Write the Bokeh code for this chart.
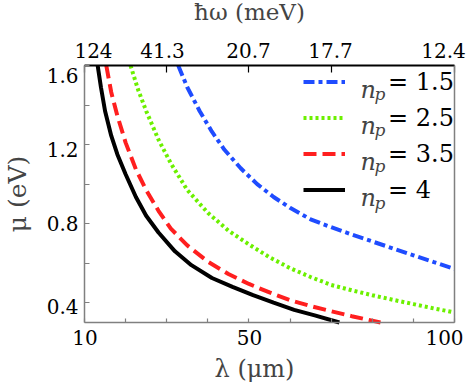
import numpy as np
from bokeh.plotting import figure
from bokeh.models import Range1d, LinearAxis, FixedTicker, Label, Legend, LegendItem
from bokeh.embed import file_html
from bokeh.resources import INLINE

# ---------------- data ----------------
lam_np15 = [32.8, 35.0, 38.0, 41.0, 44.0, 48.0, 52.0, 56.0, 60.0, 65.0, 70.0, 75.0, 80.0, 85.0, 90.0, 95.0, 100.0]
mu_np15 = [1.60, 1.49, 1.37, 1.265, 1.175, 1.08, 1.00, 0.935, 0.88, 0.822, 0.782, 0.745, 0.71, 0.675, 0.64, 0.605, 0.571]

lam_np25 = [21.2, 23.0, 25.0, 28.0, 31.0, 35.0, 40.0, 45.0, 50.0, 55.0, 60.0, 65.0, 70.0, 75.0, 80.0, 85.0, 90.0, 95.0, 100.0]
mu_np25 = [1.60, 1.48, 1.37, 1.225, 1.105, 0.97, 0.855, 0.765, 0.695, 0.63, 0.575, 0.53, 0.49, 0.463, 0.438, 0.415, 0.393, 0.371, 0.351]

lam_np35 = [15.3, 16.5, 18.0, 20.0, 22.5, 25.0, 28.0, 31.0, 35.0, 40.0, 45.0, 50.0, 55.0, 60.0, 65.0, 70.0, 75.0, 82.0]
mu_np35 = [1.60, 1.465, 1.345, 1.21, 1.075, 0.97, 0.865, 0.775, 0.69, 0.608, 0.545, 0.495, 0.452, 0.413, 0.383, 0.357, 0.332, 0.30]

lam_np4 = [13.2, 14.0, 15.0, 16.5, 18.0, 20.0, 22.5, 25.0, 28.0, 32.0, 36.0, 41.0, 46.0, 51.0, 56.0, 61.0, 66.0, 72.0]
mu_np4 = [1.60, 1.49, 1.37, 1.245, 1.15, 1.05, 0.935, 0.84, 0.755, 0.66, 0.59, 0.525, 0.48, 0.438, 0.40, 0.364, 0.336, 0.30]

np_values = ["1.5", "2.5", "3.5", "4"]

x_tick_marks = [10, 20, 30, 40, 50, 60, 70, 80, 90, 100]
x_tick_labels = ["10", "50", "100"]
top_tick_marks = [10, 30, 50, 70, 100]
top_tick_labels = ["124", "41.3", "20.7", "17.7", "12.4"]
y_tick_marks = [0.4, 0.6, 0.8, 1.0, 1.2, 1.4, 1.6]
y_tick_labels = ["0.4", "0.8", "1.2", "1.6"]

X0, X1 = 10, 100      # lambda limits of the box
Y0, Y1 = 0.3, 1.6     # mu limits of the box

# ---------------- layout (page pixels) ----------------
W, H = 467, 388
BOX_L, BOX_R, BOX_T, BOX_B = 84, 454, 65, 322   # where the plot box sits

bottom_label_px = [84.5, 249, 444]
top_label_px = [93, 162, 248, 330, 443]
left_label_py = [306, 223, 149, 75.5]


def px2x(px):
    return round(X0 + (px - BOX_L) / (BOX_R - BOX_L) * (X1 - X0), 4)


def py2y(py):
    return round(Y1 - (py - BOX_T) / (BOX_B - BOX_T) * (Y1 - Y0), 5)


FONT = "DejaVu Serif"
GRAY = "#808080"

# the frame covers the whole canvas; the axes are pinned to the box edges
p = figure(width=W, height=H,
           x_range=Range1d(px2x(0), px2x(W)), y_range=Range1d(py2y(H), py2y(0)),
           x_axis_type=None, y_axis_type=None, output_backend="svg",
           toolbar_location=None, min_border=0)
p.outline_line_color = None


def make_axis(loc, bounds, marks, label_pos, labels, tick_len, color, font_px, standoff):
    ax = LinearAxis(fixed_location=loc, bounds=bounds,
                    ticker=FixedTicker(ticks=label_pos, minor_ticks=marks),
                    major_label_overrides={pos: lab for pos, lab in zip(label_pos, labels)})
    ax.major_tick_in = 0
    ax.major_tick_out = 0
    ax.minor_tick_in = tick_len
    ax.minor_tick_out = 0
    ax.axis_line_color = color
    ax.axis_line_width = 1.5
    ax.minor_tick_line_color = color
    ax.minor_tick_line_width = 1.2
    ax.major_label_text_font = FONT
    ax.major_label_text_font_size = font_px
    ax.major_label_text_color = "black"
    ax.major_label_standoff = standoff
    return ax


bottom = make_axis(Y0, (X0, X1), x_tick_marks, [px2x(v) for v in bottom_label_px], x_tick_labels,
                   4, GRAY, "20px", 7)
p.add_layout(bottom, "below")

left = make_axis(X0, (Y0, Y1), y_tick_marks, [py2y(v) for v in left_label_py], y_tick_labels,
                 5, GRAY, "20px", 6)
p.add_layout(left, "left")

top = make_axis(Y1, (X0, X1), top_tick_marks, [px2x(v) for v in top_label_px], top_tick_labels,
                7, "black", "20px", 7)
top.axis_line_width = 2
p.add_layout(top, "above")

right = LinearAxis(fixed_location=X1, bounds=(Y0, Y1), ticker=FixedTicker(ticks=[]),
                   axis_line_color=GRAY, axis_line_width=1.5)
p.add_layout(right, "right")

# ---------------- axis titles ----------------
p.add_layout(Label(x=px2x(249), y=py2y(12), text="ħω (meV)", text_font=FONT,
                   text_font_size="23px", text_align="center", text_baseline="alphabetic"))
p.add_layout(Label(x=px2x(254), y=py2y(369), text="λ (μm)", text_font=FONT,
                   text_font_size="24px", text_align="center", text_baseline="alphabetic"))
p.add_layout(Label(x=px2x(17), y=py2y(193.5), text="μ (eV)", text_font=FONT,
                   text_font_size="25px", text_align="center", text_baseline="middle",
                   angle=np.pi / 2))

# ---------------- curves ----------------
r15 = p.line(lam_np15, mu_np15, line_color="#1f4cff", line_width=4, line_dash="11 4 4 4")
r25 = p.line(lam_np25, mu_np25, line_color="#6cf000", line_width=4, line_dash="3 3")
r35 = p.line(lam_np35, mu_np35, line_color="#ff1f1f", line_width=4, line_dash="13 6")
r4 = p.line(lam_np4, mu_np4, line_color="black", line_width=4)
renderers = [r15, r25, r35, r4]

# ---------------- legend ----------------
ROW_H, ROW_GAP = 35, 1
LEG_TOP = 64
leg_h = 4 * ROW_H + 3 * ROW_GAP
legend = Legend(items=[LegendItem(label="= " + v, renderers=[r]) for v, r in zip(np_values, renderers)],
                location=(303, H - (LEG_TOP + leg_h)),
                glyph_width=42, glyph_height=ROW_H, label_height=ROW_H, label_standoff=43,
                padding=0, margin=0, spacing=ROW_GAP,
                border_line_alpha=0, background_fill_alpha=0,
                label_text_font=FONT, label_text_font_size="24px", label_text_color="black")
p.add_layout(legend)

for i, v in enumerate(np_values):
    center = LEG_TOP + ROW_H / 2 + i * (ROW_H + ROW_GAP)
    p.add_layout(Label(x=px2x(360), y=py2y(center + 8.3), text="n", text_font=FONT,
                       text_font_size="24px", text_font_style="italic",
                       text_baseline="alphabetic", text_align="left"))
    p.add_layout(Label(x=px2x(374), y=py2y(center + 12.5), text="p", text_font=FONT,
                       text_font_size="17px", text_font_style="italic",
                       text_baseline="alphabetic", text_align="left"))

open("out.html", "w").write(file_html(p, INLINE))
